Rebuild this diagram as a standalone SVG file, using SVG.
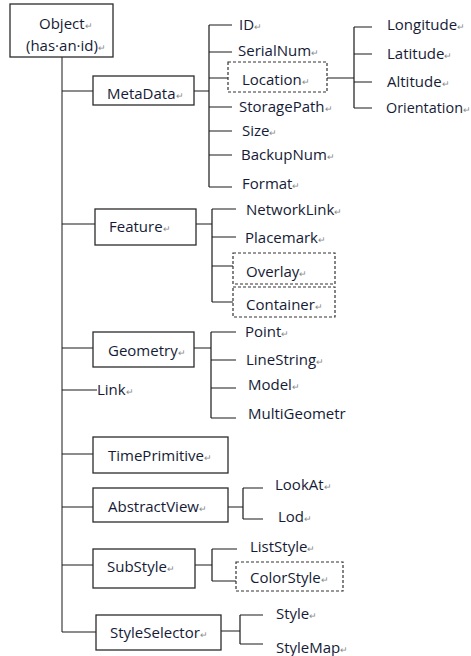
<svg xmlns="http://www.w3.org/2000/svg" width="471" height="656" viewBox="0 0 471 656">
  <style>
    .box { fill: #ffffff; stroke: #2b2b2b; stroke-width: 1.3; }
    .dash { fill: #ffffff; stroke: #333333; stroke-width: 1.2; stroke-dasharray: 3 2; }
    .ln { fill: none; stroke: #1a1a1a; stroke-width: 1.2; }
    .trunk { fill: none; stroke: #6e6e6e; stroke-width: 1.6; }
    text { font-family: "Open Sans", "Liberation Sans", sans-serif; font-size: 15px; fill: #151b36; }
    .pm { font-size: 9px; fill: #8a8a8a; }
  </style>
  <rect width="471" height="656" fill="#ffffff"/>

  <g id="connectors">
    <!-- main trunk -->
    <line class="trunk" x1="62" y1="57" x2="62" y2="632"/>
    <path class="ln" d="M62 91H93 M62 224H95 M62 348H93 M62 390H97 M62 454H93 M62 507H93 M62 565H93 M62 632H96"/>
    <!-- MetaData fan -->
    <path class="ln" d="M194 91H209 M209 25V187 M209 25H232 M209 52H232 M209 78H228 M209 107H232 M209 131H232 M209 155H232 M209 187H232"/>
    <!-- Location fan -->
    <path class="ln" d="M327 78H354 M354 27V108 M354 27H372 M354 54H372 M354 82H372 M354 108H372"/>
    <!-- Feature fan -->
    <path class="ln" d="M196 224H212 M212 209V302 M212 209H236 M212 237H236 M212 266H233 M212 302H233"/>
    <!-- Geometry fan -->
    <path class="ln" d="M194 348H211 M211 332V418 M211 332H236 M211 360H236 M211 388H236 M211 418H236"/>
    <!-- AbstractView fan -->
    <path class="ln" d="M228 507H243 M243 488V519 M243 488H263 M243 519H263"/>
    <!-- SubStyle fan -->
    <path class="ln" d="M195 565H212 M212 549V581 M212 549H237 M212 581H236"/>
    <!-- StyleSelector fan -->
    <path class="ln" d="M221 631H240 M240 615V644 M240 615H263 M240 644H263"/>
  </g>

  <g id="node-object">
    <rect class="box" x="10" y="4" width="103" height="53"/>
    <text x="39" y="29">Object<tspan class="pm">↵</tspan></text>
    <text x="26" y="51">(has·an·id)<tspan class="pm">↵</tspan></text>
  </g>

  <g id="node-metadata">
    <rect class="box" x="93" y="76" width="101" height="29"/>
    <text x="107" y="99">MetaData<tspan class="pm">↵</tspan></text>
  </g>
  <g id="node-id"><text x="239" y="30">ID<tspan class="pm">↵</tspan></text></g>
  <g id="node-serialnum"><text x="238" y="56">SerialNum<tspan class="pm">↵</tspan></text></g>
  <g id="node-location">
    <rect class="dash" x="228" y="62" width="99" height="30"/>
    <text x="242" y="85">Location<tspan class="pm">↵</tspan></text>
  </g>
  <g id="node-storagepath"><text x="239" y="112">StoragePath<tspan class="pm">↵</tspan></text></g>
  <g id="node-size"><text x="242" y="136">Size<tspan class="pm">↵</tspan></text></g>
  <g id="node-backupnum"><text x="241" y="160">BackupNum<tspan class="pm">↵</tspan></text></g>
  <g id="node-format"><text x="242" y="189">Format<tspan class="pm">↵</tspan></text></g>

  <g id="node-longitude"><text x="387" y="30">Longitude<tspan class="pm">↵</tspan></text></g>
  <g id="node-latitude"><text x="387" y="59">Latitude<tspan class="pm">↵</tspan></text></g>
  <g id="node-altitude"><text x="387" y="87">Altitude<tspan class="pm">↵</tspan></text></g>
  <g id="node-orientation"><text x="386" y="113" style="font-size:14.4px">Orientation<tspan class="pm">↵</tspan></text></g>

  <g id="node-feature">
    <rect class="box" x="95" y="209" width="101" height="36"/>
    <text x="109" y="232">Feature<tspan class="pm">↵</tspan></text>
  </g>
  <g id="node-networklink"><text x="246" y="215">NetworkLink<tspan class="pm">↵</tspan></text></g>
  <g id="node-placemark"><text x="245" y="243">Placemark<tspan class="pm">↵</tspan></text></g>
  <g id="node-overlay">
    <rect class="dash" x="233" y="253" width="102" height="31"/>
    <text x="246" y="277">Overlay<tspan class="pm">↵</tspan></text>
  </g>
  <g id="node-container">
    <rect class="dash" x="233" y="287" width="102" height="30"/>
    <text x="246" y="310">Container<tspan class="pm">↵</tspan></text>
  </g>

  <g id="node-geometry">
    <rect class="box" x="93" y="332" width="101" height="35"/>
    <text x="108" y="356">Geometry<tspan class="pm">↵</tspan></text>
  </g>
  <g id="node-point"><text x="245" y="337">Point<tspan class="pm">↵</tspan></text></g>
  <g id="node-linestring"><text x="246" y="365">LineString<tspan class="pm">↵</tspan></text></g>
  <g id="node-model"><text x="248" y="390">Model<tspan class="pm">↵</tspan></text></g>
  <g id="node-multigeometry"><text x="248" y="419">MultiGeometr</text></g>

  <g id="node-link"><text x="97" y="395">Link<tspan class="pm">↵</tspan></text></g>

  <g id="node-timeprimitive">
    <rect class="box" x="93" y="437" width="135" height="36"/>
    <text x="108" y="461">TimePrimitive<tspan class="pm">↵</tspan></text>
  </g>

  <g id="node-abstractview">
    <rect class="box" x="93" y="488" width="135" height="34"/>
    <text x="108" y="512">AbstractView<tspan class="pm">↵</tspan></text>
  </g>
  <g id="node-lookat"><text x="275" y="490">LookAt<tspan class="pm">↵</tspan></text></g>
  <g id="node-lod"><text x="278" y="522">Lod<tspan class="pm">↵</tspan></text></g>

  <g id="node-substyle">
    <rect class="box" x="93" y="549" width="102" height="39"/>
    <text x="107" y="572">SubStyle<tspan class="pm">↵</tspan></text>
  </g>
  <g id="node-liststyle"><text x="250" y="552">ListStyle<tspan class="pm">↵</tspan></text></g>
  <g id="node-colorstyle">
    <rect class="dash" x="236" y="562" width="107" height="29"/>
    <text x="250" y="583">ColorStyle<tspan class="pm">↵</tspan></text>
  </g>

  <g id="node-styleselector">
    <rect class="box" x="96" y="615" width="125" height="35"/>
    <text x="110" y="638">StyleSelector<tspan class="pm">↵</tspan></text>
  </g>
  <g id="node-style"><text x="276" y="619">Style<tspan class="pm">↵</tspan></text></g>
  <g id="node-stylemap"><text x="276" y="653">StyleMap<tspan class="pm">↵</tspan></text></g>
</svg>
